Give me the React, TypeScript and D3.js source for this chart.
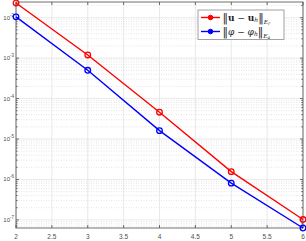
import React, { useEffect, useRef } from 'react';
import * as d3 from 'd3';

// polynomial degree k and errors
const degrees = [2, 3, 4, 5, 6];
const errU = [0.0231, 1.2e-3, 4.6e-5, 1.56e-6, 1.02e-7];
const errPhi = [0.0105, 5.0e-4, 1.61e-5, 8.1e-7, 6.3e-8];
const xTicks = [2, 2.5, 3, 3.5, 4, 4.5, 5, 5.5, 6];
const yDecades = [-7, -6, -5, -4, -3, -2];

const W = 306, H = 241;
const margin = { top: 2, right: 3, bottom: 13, left: 16 };

export default function App() {
  const ref = useRef<SVGSVGElement>(null);

  useEffect(() => {
    const svg = d3.select(ref.current);
    svg.selectAll('*').remove();

    const x = d3.scaleLinear().domain([2, 6]).range([margin.left, W - margin.right]);
    const all = errU.concat(errPhi);
    const y = d3.scaleLog().domain([d3.min(all) as number, d3.max(all) as number])
      .range([H - margin.bottom, margin.top + 1]);
    const [x0, x1] = x.range();
    const yb = H - margin.bottom, yt = margin.top;

    const grid = svg.append('g');
    // minor y grid (dotted)
    const minors: number[] = [];
    for (let e = -8; e <= -1; e++) for (let m = 2; m <= 9; m++) {
      const v = m * Math.pow(10, e);
      if (y(v) < yb && y(v) > yt) minors.push(v);
    }
    grid.selectAll('.ymin').data(minors).enter().append('line')
      .attr('x1', x0).attr('x2', x1).attr('y1', d => y(d)).attr('y2', d => y(d))
      .attr('stroke', '#d4d4d4').attr('stroke-width', 0.6).attr('stroke-dasharray', '1,1.5');
    grid.selectAll('.ymaj').data(yDecades).enter().append('line')
      .attr('x1', x0).attr('x2', x1).attr('y1', d => y(Math.pow(10, d))).attr('y2', d => y(Math.pow(10, d)))
      .attr('stroke', '#e3e3e3').attr('stroke-width', 0.8);
    grid.selectAll('.xmaj').data(xTicks).enter().append('line')
      .attr('x1', d => x(d)).attr('x2', d => x(d)).attr('y1', yt).attr('y2', yb)
      .attr('stroke', '#e3e3e3').attr('stroke-width', 0.8);

    // box + ticks
    const ax = svg.append('g').attr('stroke', '#4d4d4d').attr('stroke-width', 0.8);
    ax.append('rect').attr('x', x0).attr('y', yt).attr('width', x1 - x0).attr('height', yb - yt)
      .attr('fill', 'none');
    xTicks.forEach(t => {
      ax.append('line').attr('x1', x(t)).attr('x2', x(t)).attr('y1', yb).attr('y2', yb - 3);
      ax.append('line').attr('x1', x(t)).attr('x2', x(t)).attr('y1', yt).attr('y2', yt + 3);
    });
    yDecades.forEach(e => {
      const yy = y(Math.pow(10, e));
      ax.append('line').attr('x1', x0).attr('x2', x0 + 3).attr('y1', yy).attr('y2', yy);
      ax.append('line').attr('x1', x1).attr('x2', x1 - 3).attr('y1', yy).attr('y2', yy);
    });
    minors.forEach(v => {
      ax.append('line').attr('x1', x0).attr('x2', x0 + 1.6).attr('y1', y(v)).attr('y2', y(v));
      ax.append('line').attr('x1', x1).attr('x2', x1 - 1.6).attr('y1', y(v)).attr('y2', y(v));
    });

    const lab = svg.append('g').attr('font-family', 'Liberation Sans, Arial, sans-serif')
      .attr('fill', '#4d4d4d');
    xTicks.forEach(t => {
      lab.append('text').attr('x', x(t)).attr('y', H - 2).attr('font-size', 6.5)
        .attr('text-anchor', 'middle').text(String(t));
    });
    yDecades.forEach(e => {
      const yy = y(Math.pow(10, e));
      const t = lab.append('text').attr('x', x0 - 2).attr('y', yy + 2).attr('font-size', 6)
        .attr('text-anchor', 'end');
      t.append('tspan').text('10');
      t.append('tspan').attr('dy', -3).attr('font-size', 4.5).text(String(e));
    });

    const line = d3.line<number>().x((d, i) => x(degrees[i])).y(d => y(d));
    const series = [
      { data: errU, color: '#ff0000' },
      { data: errPhi, color: '#0000ff' },
    ];
    series.forEach(s => {
      svg.append('path').datum(s.data).attr('d', line).attr('fill', 'none')
        .attr('stroke', s.color).attr('stroke-width', 1.4);
      svg.selectAll(null).data(s.data).enter().append('circle')
        .attr('cx', (d, i) => x(degrees[i])).attr('cy', d => y(d)).attr('r', 2.8)
        .attr('fill', 'none').attr('stroke', s.color).attr('stroke-width', 1.3);
    });

    // legend
    const lg = svg.append('g');
    lg.append('rect').attr('x', 198).attr('y', 10).attr('width', 86).attr('height', 29.5)
      .attr('fill', '#fff').attr('stroke', '#8a8a8a').attr('stroke-width', 0.8);
    const rows = [
      { color: '#ff0000', yy: 17.5, a: 'u', b: 'u', ital: false, sub: 'r' },
      { color: '#0000ff', yy: 31.5, a: 'φ', b: 'φ', ital: true, sub: 'a' },
    ];
    rows.forEach(r => {
      lg.append('line').attr('x1', 201).attr('x2', 220).attr('y1', r.yy).attr('y2', r.yy)
        .attr('stroke', r.color).attr('stroke-width', 1.4);
      lg.append('circle').attr('cx', 210.5).attr('cy', r.yy).attr('r', 2.3)
        .attr('fill', r.color).attr('stroke', r.color);
      const t = lg.append('text').attr('x', 222.5).attr('y', r.yy + 3.3)
        .attr('font-family', 'DejaVu Serif, Liberation Serif, serif').attr('font-size', 9)
        .attr('fill', '#222');
      t.append('tspan').attr('font-size', 11).text('‖');
      t.append('tspan').attr('font-weight', r.ital ? 'normal' : 'bold')
        .attr('font-style', r.ital ? 'italic' : 'normal').text(r.a);
      t.append('tspan').text(' − ');
      t.append('tspan').attr('font-weight', r.ital ? 'normal' : 'bold')
        .attr('font-style', r.ital ? 'italic' : 'normal').text(r.b);
      t.append('tspan').attr('font-size', 6).attr('font-style', 'italic').attr('dy', 1.5).text('h');
      t.append('tspan').attr('font-size', 11).attr('dy', -1.5).text('‖');
      t.append('tspan').attr('font-size', 7).attr('font-style', 'italic')
        .attr('font-family', 'Liberation Serif, serif').attr('dy', 3).text('E');
      t.append('tspan').attr('font-size', 4.5).attr('font-style', 'italic').attr('dy', 1).text(r.sub);
    });
  }, []);

  return (
    <svg ref={ref} width={W} height={H}
      style={{ position: 'absolute', left: 0, top: 0, background: '#fff' }} />
  );
}
